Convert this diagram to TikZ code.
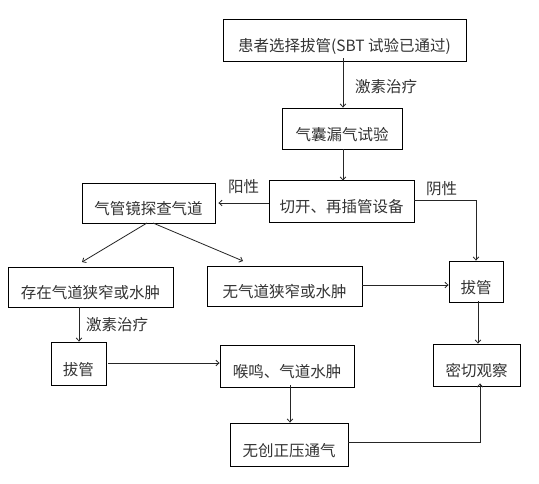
\documentclass[tikz,border=0pt]{standalone}
\usepackage{fontspec}
\setmainfont{Noto Sans CJK SC}
\usetikzlibrary{arrows.meta}
\begin{document}
\begin{tikzpicture}[x=1pt,y=-1pt,
  box/.style={draw=black,line width=0.9pt,inner sep=0pt,text=black!80,
    font=\fontsize{15.5pt}{16pt}\selectfont,text height=23pt,text depth=0pt},
  lab/.style={inner sep=0pt,text=black!80,font=\fontsize{15.5pt}{16pt}\selectfont},
  conn/.style={draw=black!85,line width=0.8pt,-{Straight Barb[length=3pt,width=5.5pt]}}]
\useasboundingbox (0,0) rectangle (539,483);
\fill[white] (0,0) rectangle (539,483);
\node[box,minimum width=243pt,minimum height=42pt] (b1) at (344.5,40) {患者选择拔管(SBT 试验已通过)};
\node[box,minimum width=120pt,minimum height=41pt] (b2) at (342,128.5) {气囊漏气试验};
\node[box,minimum width=145pt,minimum height=42pt] (b3) at (341.5,201) {切开、再插管设备};
\node[box,minimum width=133pt,minimum height=40pt] (b4) at (148.5,203) {气管镜探查气道};
\node[box,minimum width=54pt,minimum height=41pt] (b5) at (476,281.5) {拔管};
\node[box,minimum width=165pt,minimum height=40pt] (b6) at (90.5,287) {存在气道狭窄或水肿};
\node[box,minimum width=155pt,minimum height=40pt] (b7) at (284.5,286) {无气道狭窄或水肿};
\node[box,minimum width=55pt,minimum height=43pt] (b8) at (78.5,363.5) {拔管};
\node[box,minimum width=134pt,minimum height=42pt] (b9) at (287,366) {喉鸣、气道水肿};
\node[box,minimum width=87pt,minimum height=42pt] (b10) at (476.5,365) {密切观察};
\node[box,minimum width=118pt,minimum height=43pt] (b11) at (289,444.5) {无创正压通气};
\node[lab,anchor=west] (l1) at (355,87) {激素治疗};
\node[lab,anchor=west] (l2) at (228,187) {阳性};
\node[lab,anchor=west] (l3) at (426,189) {阴性};
\node[lab,anchor=west] (l4) at (86,325) {激素治疗};
\coordinate (c1) at (476,200);
\coordinate (c2) at (480,442);
\draw[conn] ([yshift=3pt]b1.south -| 343,0) -- (b2.north -| 343,0);
\draw[conn] (b2.south -| 343,0) -- ([yshift=-1pt]b3.north -| 343,0);
\draw[conn] (b3.west |- 0,203) -- ([xshift=3pt]b4.east |- 0,203);
\draw[conn] (b3.east |- c1) -- (c1) -- (b5.north -| c1);
\draw[conn] (147,223) -- (82,262);
\draw[conn] (153,223) -- (243,261);
\draw[conn] (b7.east |- 0,285) -- (b5.west |- 0,285);
\draw[conn] (b6.south -| 79,0) -- (b8.north -| 79,0);
\draw[conn] ([yshift=1pt]b5.south -| 478,0) -- (b10.north -| 478,0);
\draw[conn] ([xshift=2pt]b8.east |- 0,363) -- (b9.west |- 0,363);
\draw[conn] ([yshift=2pt]b9.south -| 290,0) -- (b11.north -| 290,0);
\draw[conn] (b11.east |- c2) -- (c2) -- ([yshift=3pt]b10.south -| c2);
\end{tikzpicture}
\end{document}
